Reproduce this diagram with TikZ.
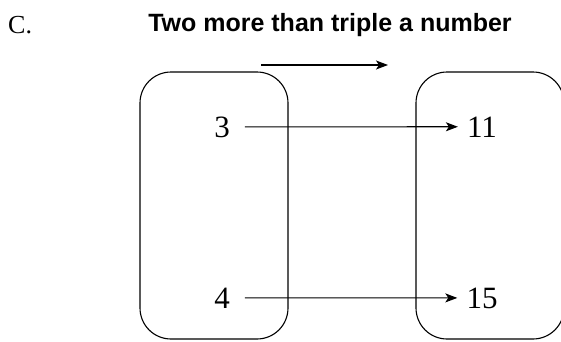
\documentclass[tikz,border=0pt]{standalone}
\usepackage{fontspec}
\setmainfont{Liberation Serif}
\newfontfamily\titlefont{Liberation Sans}
\usetikzlibrary{arrows.meta}
\begin{document}
\begin{tikzpicture}[x=1pt,y=1pt,
  setbox/.style={draw,line width=1.1pt,rounded corners=31pt,minimum width=148pt,minimum height=267pt,inner sep=0pt},
  num/.style={inner sep=0pt,font=\fontsize{31}{36}\selectfont},
  arr/.style={line width=1.1pt,-{Stealth[length=12pt,width=9pt,inset=3pt]}}]
\useasboundingbox (0,0) rectangle (561,341);
\clip (0,0) rectangle (561,341);
\node[setbox] (dom) at (214,135.5) {};
\node[setbox] (ran) at (490,135.5) {};
\node[num,anchor=base] (a) at (222,204) {3};
\node[num,anchor=base] (b) at (222,33) {4};
\node[num,anchor=base] (c) at (482,204) {11};
\node[num,anchor=base] (d) at (482,33) {15};
\draw[arr,shorten <=15pt,shorten >=9pt] (a.east) -- (c.west);
\draw[arr,shorten <=15pt,shorten >=9pt] (b.east) -- (d.west);
\node[font=\titlefont\bfseries\fontsize{25}{30}\selectfont,anchor=base,inner sep=0pt] (title) at (330,309) {Two more than triple a number};
\node[font=\fontsize{26}{30}\selectfont,anchor=base west,inner sep=0pt] (lbl) at (8,308) {C.};
\coordinate (t1) at (261,276);
\coordinate (t2) at (388,276);
\draw[arr] (t1) -- (t2);
\end{tikzpicture}
\end{document}
